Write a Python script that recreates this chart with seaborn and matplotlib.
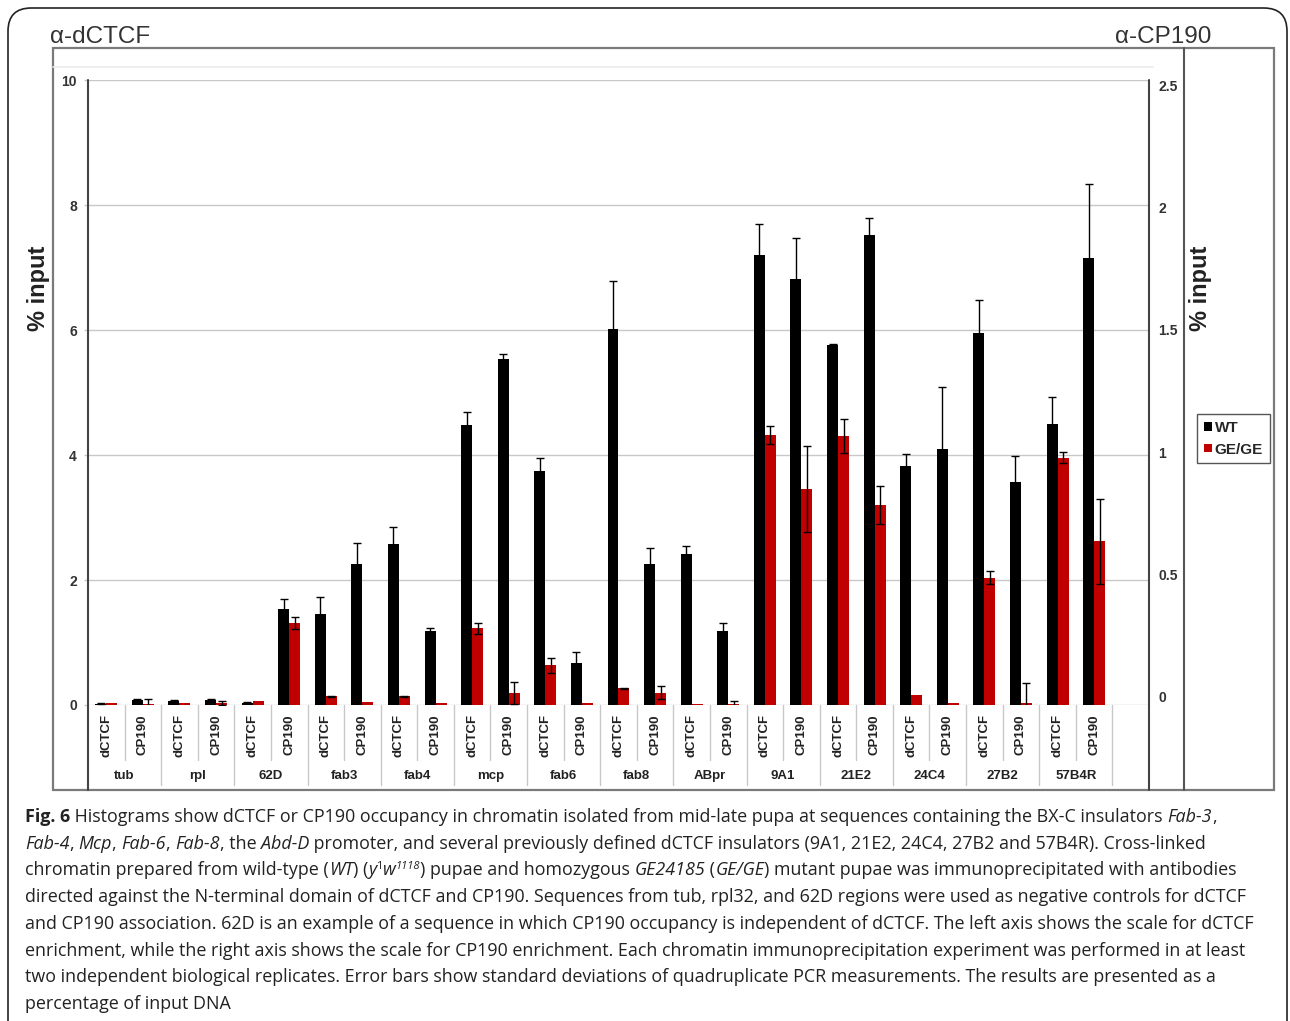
import matplotlib
matplotlib.use("Agg")
import matplotlib.pyplot as plt
from matplotlib.lines import Line2D
from matplotlib.patches import FancyBboxPatch, Patch, Rectangle
from matplotlib.transforms import blended_transform_factory
import numpy as np
import pandas as pd
import seaborn as sns

# ── Data ──────────────────────────────────────────────────────────────────────
REGIONS = ["tub", "rpl", "62D", "fab3", "fab4", "mcp", "fab6", "fab8",
           "ABpr", "9A1", "21E2", "24C4", "27B2", "57B4R"]
ANTIBODIES = ["dCTCF", "CP190"]
GENOTYPES = ["WT", "GE/GE"]

# dCTCF ChIP, % input, left axis
DCTCF_WT = [0.02, 0.07, 0.04, 1.45, 2.58, 4.48, 3.74, 6.02, 2.42, 7.20, 5.76, 3.82, 5.95, 4.50]
DCTCF_WT_SD = [0.01, 0.01, 0.01, 0.28, 0.27, 0.20, 0.21, 0.76, 0.12, 0.50, 0.02, 0.20, 0.53, 0.43]
DCTCF_GE = [0.04, 0.04, 0.064, 0.14, 0.14, 1.23, 0.64, 0.27, 0.02, 4.32, 4.31, 0.155, 2.04, 3.96]
DCTCF_GE_SD = [0.0, 0.0, 0.0, 0.01, 0.01, 0.09, 0.12, 0.01, 0.0, 0.15, 0.27, 0.0, 0.10, 0.09]

# CP190 ChIP, % input, right axis
CP190_WT = [0.019, 0.02, 0.383, 0.565, 0.295, 1.385, 0.17, 0.565, 0.295, 1.705, 1.88, 1.023, 0.893, 1.788]
CP190_WT_SD = [0.005, 0.005, 0.04, 0.083, 0.012, 0.02, 0.043, 0.063, 0.035, 0.165, 0.07, 0.248, 0.103, 0.298]
CP190_GE = [0.005, 0.008, 0.328, 0.012, 0.008, 0.048, 0.008, 0.05, 0.005, 0.865, 0.80, 0.01, 0.01, 0.655]
CP190_GE_SD = [0.018, 0.008, 0.025, 0.0, 0.0, 0.043, 0.0, 0.025, 0.013, 0.173, 0.075, 0.0, 0.08, 0.17]

LEFT_TICKS = [0, 2, 4, 6, 8, 10]
RIGHT_TICKS = [0, 0.5, 1, 1.5, 2, 2.5]
RIGHT_TICK_LABELS = ["0", "0.5", "1", "1.5", "2", "2.5"]

COLOURS = {"WT": "#000000", "GE/GE": "#c00000"}

CAPTION = [
    [("Fig. 6", "b"), (" Histograms show dCTCF or CP190 occupancy in chromatin isolated from mid-late pupa at sequences containing the BX-C insulators ", ""),
     ("Fab-3", "i"), (",", "")],
    [("Fab-4", "i"), (", ", ""), ("Mcp", "i"), (", ", ""), ("Fab-6", "i"), (", ", ""), ("Fab-8", "i"), (", the ", ""), ("Abd-D", "i"),
     (" promoter, and several previously defined dCTCF insulators (9A1, 21E2, 24C4, 27B2 and 57B4R). Cross-linked", "")],
    [("chromatin prepared from wild-type (", ""), ("WT", "i"), (") (", ""), ("y", "i"), ("1", "s"), ("w", "i"), ("1118", "is"),
     (") pupae and homozygous ", ""), ("GE24185", "i"), (" (", ""), ("GE/GE", "i"), (") mutant pupae was immunoprecipitated with antibodies", "")],
    [("directed against the N-terminal domain of dCTCF and CP190. Sequences from tub, rpl32, and 62D regions were used as negative controls for dCTCF", "")],
    [("and CP190 association. 62D is an example of a sequence in which CP190 occupancy is independent of dCTCF. The left axis shows the scale for dCTCF", "")],
    [("enrichment, while the right axis shows the scale for CP190 enrichment. Each chromatin immunoprecipitation experiment was performed in at least", "")],
    [("two independent biological replicates. Error bars show standard deviations of quadruplicate PCR measurements. The results are presented as a", "")],
    [("percentage of input DNA", "")],
]

# ── Setup ─────────────────────────────────────────────────────────────────────
sns.set_theme(style="white")
plt.rcParams["font.family"] = ["Liberation Sans", "DejaVu Sans"]

W, H = 1290, 1021
fig = plt.figure(figsize=(W / 100, H / 100), dpi=100)


def fx(px):
    return px / W


def fy(py):
    return 1 - py / H


ax = fig.add_axes([fx(88), fy(705), fx(1149) - fx(88), fy(80) - fy(705)])
ax2 = ax.twinx()
# right-hand scale labels sit slightly inside the plotted range in the original
ax3 = fig.add_axes([fx(1148), fy(697), fx(1), fy(85) - fy(697)])

slot_names = [f"{r} {a}" for r in REGIONS for a in ANTIBODIES] + [""]


def long_frame(antibody, wt, ge):
    rows = []
    for r, a, b in zip(REGIONS, wt, ge):
        rows.append({"slot": f"{r} {antibody}", "genotype": "WT", "value": a})
        rows.append({"slot": f"{r} {antibody}", "genotype": "GE/GE", "value": b})
    return pd.DataFrame(rows)


for axis, antibody, wt, ge in [(ax, "dCTCF", DCTCF_WT, DCTCF_GE), (ax2, "CP190", CP190_WT, CP190_GE)]:
    sns.barplot(data=long_frame(antibody, wt, ge), x="slot", y="value", hue="genotype",
                order=slot_names, hue_order=GENOTYPES, palette=COLOURS, width=0.6,
                saturation=1, linewidth=0, errorbar=None, legend=False, ax=axis)

# error bars (symmetric SD, drawn in black)
idx = np.arange(len(REGIONS)) * 2
for axis, pos, wt, wt_sd, ge, ge_sd in [(ax, idx, DCTCF_WT, DCTCF_WT_SD, DCTCF_GE, DCTCF_GE_SD),
                                        (ax2, idx + 1, CP190_WT, CP190_WT_SD, CP190_GE, CP190_GE_SD)]:
    for shift, vals, sds in [(-0.15, wt, wt_sd), (0.15, ge, ge_sd)]:
        vals, sds = np.array(vals), np.array(sds)
        keep = sds > 0
        axis.errorbar(pos[keep] + shift, vals[keep], yerr=sds[keep], fmt="none",
                      ecolor="black", elinewidth=1, capsize=2.7, capthick=1, zorder=5)

ax.set_xlim(-0.5, len(slot_names) - 0.5)
ax.set_ylim(0, 10)
ax2.set_ylim(0, 2.5)
ax3.set_ylim(0, 2.5)
ax.set_yticks(LEFT_TICKS)
ax2.set_yticks([])
ax3.set_yticks(RIGHT_TICKS)
ax3.set_yticklabels(RIGHT_TICK_LABELS)
ax3.set_xticks([])
ax3.yaxis.tick_right()
ax.grid(axis="y", color="#c8c8c8", linewidth=1)
ax.grid(axis="x", visible=False)
ax2.grid(False)
ax3.grid(False)
for a in (ax, ax2, ax3):
    a.set_xlabel("")
    a.set_ylabel("")
    a.set_facecolor("none")
    a.tick_params(axis="x", length=0, labelbottom=False)
    for s in a.spines.values():
        s.set_visible(False)
ax.tick_params(axis="y", length=3, color="#c8c8c8", width=1, pad=5, labelsize=10, labelcolor="#333")
ax3.tick_params(axis="y", length=0, pad=6.5, labelsize=10, labelcolor="#333")
for lab in ax.get_yticklabels() + ax3.get_yticklabels():
    lab.set_fontweight("bold")

# ── Category labels under the axis ────────────────────────────────────────────
tr = blended_transform_factory(ax.transData, fig.transFigure)
for i, region in enumerate(REGIONS):
    for j, antibody in enumerate(ANTIBODIES):
        fig.text(2 * i + j, fy(735), antibody, transform=tr, rotation=90, ha="center", va="center",
                 fontsize=9.5, fontweight="bold", color="#222")
    fig.text(2 * i + 0.5, fy(776), region, transform=tr, ha="center", va="center",
             fontsize=9.5, fontweight="bold", color="#222")
    fig.add_artist(Line2D([2 * i + 0.5] * 2, [fy(705), fy(760)], transform=tr, color="#c8c8c8", lw=1))
    fig.add_artist(Line2D([2 * i + 1.5] * 2, [fy(705), fy(785)], transform=tr, color="#c8c8c8", lw=1))

# ── Frames and axis lines ─────────────────────────────────────────────────────
fig.add_artist(FancyBboxPatch((fx(8), fy(1060)), fx(1287) - fx(8), fy(8) - fy(1060),
                              boxstyle="round,pad=0,rounding_size=0.018", mutation_aspect=W / H,
                              transform=fig.transFigure, fill=False, ec="#222", lw=1.2))
fig.add_artist(Rectangle((fx(53), fy(790)), fx(1274) - fx(53), fy(48) - fy(790),
                         transform=fig.transFigure, fill=False, ec="#7a7a7a", lw=1.6))
fig.add_artist(Line2D([fx(53), fx(1153)], [fy(67)] * 2, color="#ececec", lw=1.2))
fig.add_artist(Line2D([fx(1184)] * 2, [fy(48), fy(790)], color="#555", lw=1.5))
fig.add_artist(Line2D([fx(88)] * 2, [fy(80), fy(790)], color="#444", lw=1.5))
fig.add_artist(Line2D([fx(1149)] * 2, [fy(80), fy(790)], color="#444", lw=1.5))

# ── Titles, axis labels, legend ───────────────────────────────────────────────
fig.text(fx(50), fy(37), "α-dCTCF", fontsize=17.5, ha="left", va="center", color="#333")
fig.text(fx(1211), fy(37), "α-CP190", fontsize=17.5, ha="right", va="center", color="#333")
for xpx in (38, 1201):
    fig.text(fx(xpx), fy(288), "% input", rotation=90, ha="center", va="center",
             fontsize=17, fontweight="bold", color="#222")

handles = [Patch(facecolor=COLOURS[g], edgecolor="none") for g in GENOTYPES]
fig.legend(handles, GENOTYPES, loc="upper left", bbox_to_anchor=(fx(1197), fy(414)),
           borderaxespad=0, frameon=True, fancybox=False, edgecolor="#555", framealpha=1,
           handlelength=0.5, handleheight=0.5, handletextpad=0.2, borderpad=0.45,
           labelspacing=0.5, prop={"weight": "bold", "size": 11})

# ── Caption ───────────────────────────────────────────────────────────────────
CAP_SIZE = 12.9
renderer = fig.canvas.get_renderer()


def text_width(s, **kw):
    core = s.strip(" ")
    width = 0.0
    if core:
        t = fig.text(0, 0, core, **kw)
        width = t.get_window_extent(renderer).width
        t.remove()
    n_space = len(s) - len(core)
    if n_space:
        a = fig.text(0, 0, "a a", **kw)
        b = fig.text(0, 0, "aa", **kw)
        width += n_space * (a.get_window_extent(renderer).width - b.get_window_extent(renderer).width)
        a.remove()
        b.remove()
    return width


def draw_line(x_px, y_px, segments):
    x = x_px
    for text, style in segments:
        kw = {"fontsize": CAP_SIZE, "family": ["Open Sans", "DejaVu Sans"], "color": "#222"}
        dy = 0
        if "b" in style:
            kw["fontweight"] = "bold"
        if "i" in style:
            kw["fontstyle"] = "italic"
        if "s" in style:
            kw["fontsize"] = CAP_SIZE * 0.62
            dy = 6
        fig.text(fx(x), fy(y_px - dy), text, ha="left", va="baseline", **kw)
        x += text_width(text, **kw)


for k, line in enumerate(CAPTION):
    draw_line(25, 822 + k * 26.7, line)

fig.savefig("out.png", dpi=100)
